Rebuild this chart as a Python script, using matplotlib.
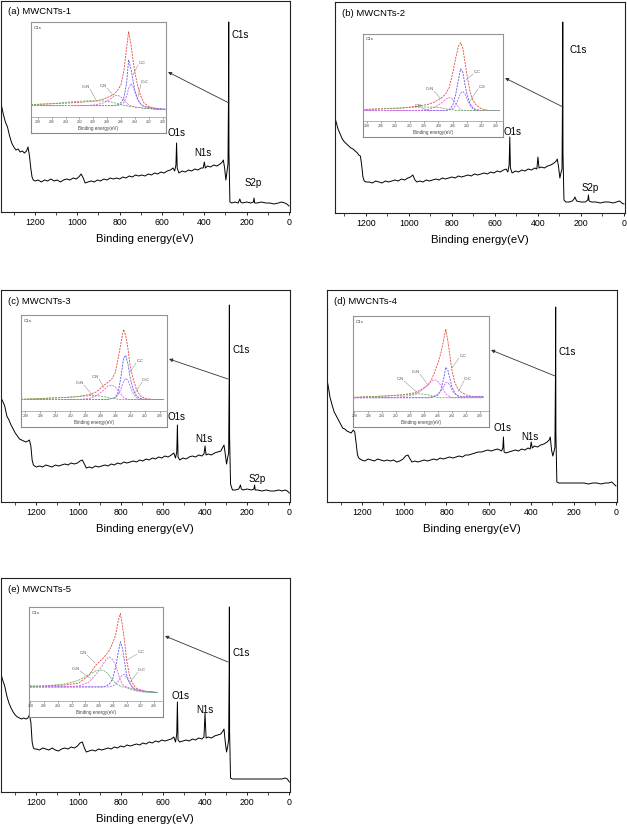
import matplotlib
matplotlib.use('Agg')
import matplotlib.pyplot as plt
from matplotlib.patches import FancyArrowPatch
from matplotlib.lines import Line2D
from matplotlib.ticker import MultipleLocator

plt.rcParams['font.family'] = ['Liberation Sans', 'DejaVu Sans']

## ----------------------------- survey spectra ------------------------------ ##
# binding energy grid (eV), shared by all five survey scans
energy = [1370, 1360, 1350, 1340, 1330, 1320, 1310, 1300, 1290, 1280, 1270, 1260, 1250, 1240, 1233, 1226, 1220, 1214, 1208, 1200,
          1185, 1170, 1155, 1140, 1125, 1110, 1095, 1080, 1065, 1050, 1035, 1020, 1005, 993, 982, 972, 963, 950,
          935, 920, 905, 890, 875, 860, 845, 830, 815, 800, 785, 770, 755, 740, 725, 710, 695, 680, 665, 650,
          635, 620, 605, 590, 575, 560, 548, 540, 534, 531, 528, 520, 505, 490, 475, 460, 445, 430, 415, 405,
          400, 395, 385, 370, 355, 340, 325, 315, 310, 304, 298, 293, 288, 285.5, 284.5, 283.5, 279, 270, 255, 240,
          232, 228, 220, 200, 180, 168, 165, 162, 150, 130, 110, 90, 70, 50, 35, 20, 10, 0]

# intensities (a.u.)
survey_a = [116, 108, 98, 90, 85, 76, 69, 65, 62, 63, 60, 61, 59, 61, 65, 56, 44, 35, 32, 31,
            32, 30, 32, 31, 33, 31, 32, 30, 32, 33, 32, 34, 33, 35, 38, 34, 29, 30,
            31, 30, 32, 31, 33, 32, 34, 33, 34, 33, 35, 34, 36, 35, 37, 36, 37, 36, 38, 37,
            39, 38, 40, 39, 41, 42, 44, 41, 47, 69, 44, 39, 41, 40, 42, 41, 43, 42, 44, 44,
            50, 44, 46, 45, 47, 46, 48, 50, 52, 44, 32, 40, 48, 120, 190, 60, 10, 9, 10, 9,
            13, 10, 9, 10, 9, 10, 14, 9, 9, 10, 9, 9, 8, 9, 10, 9, 8, 6]
survey_b = [105, 102, 99, 92, 84, 79, 74, 71, 69, 67, 65, 64, 62, 60, 58, 57, 48, 36, 32, 31,
            31, 30, 32, 31, 30, 32, 31, 32, 33, 32, 34, 33, 35, 36, 38, 33, 31, 32,
            31, 33, 32, 33, 34, 33, 35, 34, 35, 36, 35, 37, 36, 37, 38, 37, 39, 38, 39, 40,
            39, 41, 40, 42, 41, 43, 44, 41, 48, 76, 45, 40, 42, 41, 43, 42, 44, 43, 45, 44,
            56, 45, 46, 45, 47, 48, 50, 52, 54, 46, 35, 40, 44, 120, 191, 60, 13, 11, 11, 12,
            14, 16, 12, 11, 11, 13, 18, 12, 11, 11, 10, 11, 11, 10, 11, 12, 10, 9]
survey_c = [105, 101, 96, 86, 82, 77, 73, 69, 66, 63, 62, 61, 60, 61, 62, 56, 42, 37, 36, 35,
            36, 35, 37, 36, 35, 37, 36, 37, 38, 37, 39, 38, 39, 41, 42, 38, 34, 35,
            34, 36, 35, 36, 37, 36, 38, 37, 39, 38, 40, 39, 40, 41, 40, 42, 41, 43, 42, 44,
            43, 45, 44, 46, 45, 47, 49, 44, 50, 77, 45, 42, 44, 43, 45, 46, 45, 47, 46, 48,
            56, 47, 48, 47, 49, 50, 51, 55, 57, 48, 38, 44, 49, 120, 197, 65, 18, 12, 12, 13,
            17, 13, 12, 13, 12, 13, 17, 12, 12, 11, 12, 11, 11, 12, 11, 12, 11, 9]
survey_d = [125, 118, 105, 97, 90, 86, 82, 78, 74, 73, 71, 70, 69, 72, 70, 58, 47, 44, 43, 42,
            41, 43, 42, 41, 43, 42, 41, 42, 41, 42, 40, 41, 43, 46, 47, 43, 40, 41,
            40, 41, 42, 41, 42, 43, 42, 44, 43, 44, 45, 44, 45, 46, 45, 47, 47, 48, 49, 50,
            50, 51, 52, 51, 52, 53, 52, 51, 54, 65, 50, 49, 50, 51, 52, 51, 53, 52, 54, 53,
            60, 54, 56, 55, 57, 58, 60, 62, 65, 52, 46, 50, 55, 125, 195, 70, 20, 19, 19, 19,
            19, 19, 19, 19, 19, 19, 19, 19, 19, 18, 19, 19, 18, 19, 19, 20, 18, 16]
survey_e = [120, 112, 106, 96, 89, 84, 80, 77, 75, 74, 73, 74, 73, 74, 77, 70, 50, 44, 43, 43,
            42, 44, 43, 42, 44, 42, 41, 43, 44, 43, 45, 44, 46, 49, 50, 44, 40, 41,
            42, 41, 43, 42, 43, 44, 43, 45, 44, 46, 45, 47, 46, 47, 48, 47, 49, 48, 50, 49,
            51, 50, 52, 51, 52, 53, 55, 50, 58, 90, 52, 50, 51, 52, 51, 53, 52, 54, 53, 55,
            79, 54, 55, 54, 56, 57, 58, 61, 63, 50, 40, 45, 52, 120, 185, 60, 14, 13, 13, 13,
            13, 13, 13, 13, 13, 13, 13, 13, 13, 13, 13, 13, 13, 13, 13, 14, 13, 10]

titles = ['(a) MWCNTs-1', '(b) MWCNTs-2', '(c) MWCNTs-3', '(d) MWCNTs-4', '(e) MWCNTs-5']

## ------------------------------ C1s insets --------------------------------- ##
c1s_be = [299, 296, 293, 291, 289.5, 288.5, 287.5, 287, 286.5, 286, 285.6, 285.2,
          284.9, 284.6, 284.3, 284, 283.6, 283.2, 282.7, 282, 281, 279.5]
c1s_ticks = [298, 296, 294, 292, 290, 288, 286, 284, 282, 280]

env_a = [13, 14, 15, 16, 17, 19, 22, 24, 28, 34, 48, 72, 90, 78, 62, 47, 33, 23, 15, 11, 9, 8]
cc_a = [12, 12, 12, 12, 12, 12, 12, 12, 13, 15, 20, 35, 60, 52, 40, 28, 19, 14, 11, 10, 9, 8]
c2_a = [12, 12, 12, 12, 12, 12, 12, 12, 12, 13, 15, 22, 30, 35, 33, 26, 18, 14, 11, 10, 9, 8]
cn_a = [12, 12, 12, 12, 13, 15, 19, 22, 23, 21, 18, 15, 13, 12, 11, 11, 10, 10, 9, 9, 8, 8]
c3_a = [13, 14, 16, 17, 17, 17, 16, 15, 14, 13, 12, 12, 11, 11, 11, 10, 10, 10, 9, 9, 8, 8]

env_b = [13, 14, 15, 17, 19, 22, 27, 31, 38, 55, 72, 86, 90, 84, 68, 52, 34, 24, 18, 14, 12, 12]
cc_b = [12, 12, 12, 12, 12, 12, 12, 12, 13, 18, 30, 48, 60, 56, 42, 30, 20, 15, 13, 12, 12, 12]
c2_b = [12, 12, 12, 12, 12, 12, 12, 12, 13, 14, 18, 26, 32, 34, 31, 25, 18, 14, 12, 12, 12, 12]
cn_b = [12, 12, 12, 12, 13, 16, 21, 25, 27, 25, 20, 16, 13, 12, 12, 12, 12, 12, 12, 12, 12, 12]
c3_b = [13, 14, 15, 16, 16, 16, 15, 14, 13, 13, 12, 12, 12, 12, 12, 12, 12, 12, 12, 12, 12, 12]

env_c = [12, 13, 14, 15, 17, 20, 27, 30, 33, 40, 56, 73, 85, 78, 64, 46, 33, 23, 16, 13, 12, 12]
cc_c = [12, 12, 12, 12, 12, 12, 12, 12, 13, 14, 20, 38, 55, 58, 48, 34, 22, 16, 13, 12, 12, 12]
c2_c = [12, 12, 12, 12, 12, 12, 12, 12, 13, 14, 17, 24, 31, 34, 32, 25, 18, 14, 12, 12, 12, 12]
cn_c = [12, 12, 12, 12, 13, 16, 22, 26, 27, 25, 21, 17, 14, 13, 12, 12, 12, 12, 12, 12, 12, 12]
c3_c = [12, 13, 14, 15, 16, 16, 15, 14, 13, 13, 12, 12, 12, 12, 12, 12, 12, 12, 12, 12, 12, 12]

env_d = [14, 15, 16, 17, 19, 22, 27, 32, 41, 51, 61, 75, 86, 74, 58, 42, 30, 24, 20, 17, 15, 15]
cc_d = [14, 14, 14, 14, 14, 14, 14, 14, 15, 17, 22, 34, 46, 43, 34, 25, 19, 16, 15, 15, 15, 15]
c2_d = [14, 14, 14, 14, 14, 14, 14, 15, 16, 18, 21, 26, 30, 30, 27, 22, 18, 16, 15, 15, 15, 15]
cn_d = [14, 14, 14, 15, 17, 21, 27, 31, 33, 31, 27, 22, 18, 16, 15, 14, 14, 14, 14, 14, 14, 14]
c3_d = [14, 15, 16, 17, 18, 18, 17, 16, 15, 14, 14, 14, 14, 14, 14, 14, 14, 14, 14, 14, 14, 14]

env_e = [16, 16, 17, 19, 27, 38, 45, 49, 54, 62, 70, 86, 93, 80, 64, 44, 28, 20, 14, 12, 10, 9]
cc_e = [15, 15, 15, 15, 15, 15, 15, 16, 18, 24, 36, 52, 63, 56, 42, 28, 20, 15, 12, 11, 10, 9]
c2_e = [15, 15, 15, 15, 15, 15, 15, 15, 15, 16, 18, 21, 25, 28, 28, 25, 20, 15, 12, 11, 10, 9]
cn_e = [15, 15, 15, 16, 20, 28, 38, 44, 47, 44, 38, 29, 22, 18, 16, 15, 14, 13, 12, 11, 10, 9]
c3_e = [15, 16, 18, 22, 28, 32, 33, 31, 27, 22, 19, 17, 16, 15, 15, 14, 13, 12, 11, 10, 9, 9]

comp_names_a = ['C=N', 'C-N', 'C-C', 'C=C']
comp_names_b = ['C-N', 'C=N', 'C-C', 'C-S']
comp_names_c = ['C=N', 'C-N', 'C-C', 'C=C']
comp_names_d = ['C-N', 'C=N', 'C-C', 'C=C']
comp_names_e = ['C-N', 'C=N', 'C-C', 'C=C']

## ------------------------------- layout ------------------------------------ ##
W, H = 627, 825
fig = plt.figure(figsize=(W / 100, H / 100), dpi=100)


def rect(l, t, r, b):
    return [l / W, 1 - b / H, (r - l) / W, (b - t) / H]


def fp(x, y):
    return (x / W, 1 - y / H)


# survey frames in pixels (left, top, right, bottom) and x limits
frames = [(0.5, 1, 290, 212), (335, 2, 625, 213), (0.5, 290, 290, 502),
          (327, 290, 617, 502), (0.5, 578, 290, 792)]
xlims = [(1363, -5), (1344, -5), (1370, -3), (1364, -5), (1370, -3)]
surveys = [survey_a, survey_b, survey_c, survey_d, survey_e]

# peak labels (text, x px, y px)
peak_labels = [
    [('C1s', 240, 35), ('O1s', 177, 133), ('N1s', 203, 153), ('S2p', 253, 183)],
    [('C1s', 578, 50), ('O1s', 513, 132), ('S2p', 590, 188)],
    [('C1s', 241, 350), ('O1s', 177, 417), ('N1s', 204, 439), ('S2p', 257, 479)],
    [('C1s', 567, 352), ('O1s', 503, 428), ('N1s', 530, 437)],
    [('C1s', 241, 653), ('O1s', 181, 696), ('N1s', 205, 710)],
]
arrows = [((229, 103), (168, 72)), ((563, 107), (505, 78)), ((228, 379), (169, 359)),
          ((555, 376), (491, 350)), ((228, 662), (165, 636))]

# inset boxes (left, top, right, bottom) and x limits (eV)
inset_boxes = [(31, 22, 166, 133), (363, 34, 503, 137), (21, 315, 167, 427),
               (353, 316, 489, 427), (29, 607, 163, 717)]
inset_left = [299, 298.5, 298.6, 298.2, 298.2]
inset_curves = [(env_a, cc_a, c2_a, cn_a, c3_a), (env_b, cc_b, c2_b, cn_b, c3_b),
                (env_c, cc_c, c2_c, cn_c, c3_c), (env_d, cc_d, c2_d, cn_d, c3_d),
                (env_e, cc_e, c2_e, cn_e, c3_e)]
comp_names = [comp_names_a, comp_names_b, comp_names_c, comp_names_d, comp_names_e]
# label text position and leader-line end, pixels
comp_pos = [
    [((86, 87), (96, 100)), ((103, 86), (113, 95)), ((142, 63), (133, 75)), ((145, 82), (138, 97))],
    [((418, 106), (430, 111)), ((430, 89), (441, 99)), ((477, 72), (466, 80)), ((482, 87), (470, 101))],
    [((80, 383), (93, 396)), ((95, 377), (104, 388)), ((140, 361), (130, 372)), ((146, 380), (135, 393))],
    [((400, 379), (418, 393)), ((416, 372), (428, 385)), ((463, 356), (452, 368)), ((468, 379), (458, 392))],
    [((83, 653), (95, 663)), ((76, 669), (90, 678)), ((141, 652), (127, 660)), ((142, 670), (130, 682))],
]
curve_colors = ['#e5483e', '#5a5ae6', '#b070e8', '#e466e4', '#5cb85c']

for i in range(5):
    l, t, r, b = frames[i]
    ax = fig.add_axes(rect(l, t, r, b))
    ax.plot(energy, surveys[i], color='k', lw=0.7)
    ax.set_xlim(xlims[i])
    ax.set_ylim(0, b - t)
    ax.set_yticks([])
    ax.set_xticks(range(0, 1201, 200))
    ax.xaxis.set_minor_locator(MultipleLocator(100))
    ax.tick_params(axis='x', which='major', direction='out', length=2.5, width=0.6,
                   pad=1.5, labelsize=6.3)
    ax.tick_params(axis='x', which='minor', direction='out', length=2, width=0.5)
    ax.set_xlabel('Binding energy(eV)', fontsize=8.2, labelpad=5.5)
    for s in ax.spines.values():
        s.set_linewidth(0.8)
        s.set_color('#222222')
    fig.text(*fp(l + 7, t + 11), titles[i], fontsize=6.8, ha='left', va='center')
    for txt, x, y in peak_labels[i]:
        fig.text(*fp(x, y), txt, fontsize=7, ha='center', va='center')
    (x0, y0), (x1, y1) = arrows[i]
    fig.add_artist(FancyArrowPatch(fp(x0, y0), fp(x1, y1), transform=fig.transFigure,
                                   arrowstyle='-|>', mutation_scale=5, lw=0.6,
                                   color='#333333', shrinkA=0, shrinkB=0))

    # inset: C1s high resolution spectrum
    bl, bt, br, bb = inset_boxes[i]
    bax = fig.add_axes(rect(bl, bt, br, bb))
    bax.set_xticks([])
    bax.set_yticks([])
    for s in bax.spines.values():
        s.set_linewidth(0.8)
        s.set_color('#8a8a8a')
    iax = fig.add_axes(rect(bl, bt, br, bb - 16))
    iax.patch.set_alpha(0)
    for k, ys in enumerate(inset_curves[i]):
        iax.plot(c1s_be, ys, color=curve_colors[k], lw=0.6, ls=(0, (2.5, 1.2)))
    iax.set_xlim(inset_left[i], inset_left[i] - 19.5)
    iax.set_ylim(0, 100)
    iax.set_yticks([])
    iax.set_xticks(c1s_ticks)
    iax.tick_params(axis='x', direction='out', length=1.2, width=0.4, pad=1,
                    labelsize=2.6, colors='#555555')
    iax.set_xlabel('Binding energy(eV)', fontsize=3.3, labelpad=1.2, color='#444444')
    for s in iax.spines.values():
        s.set_linewidth(0.5)
        s.set_color('#999999')
    iax.text(0.02, 0.96, 'C1s', transform=iax.transAxes, fontsize=3.2, va='top',
             color='#333333')
    for name, ((tx, ty), (ex, ey)) in zip(comp_names[i], comp_pos[i]):
        fig.text(*fp(tx, ty), name, fontsize=2.8, ha='center', va='center', color='#444444')
        sx = tx + 4 if ex > tx else tx - 4
        fig.add_artist(Line2D([sx / W, ex / W], [1 - (ty + 2) / H, 1 - ey / H],
                              transform=fig.transFigure, lw=0.4, color='#999999'))

fig.savefig('out.png', dpi=100)
